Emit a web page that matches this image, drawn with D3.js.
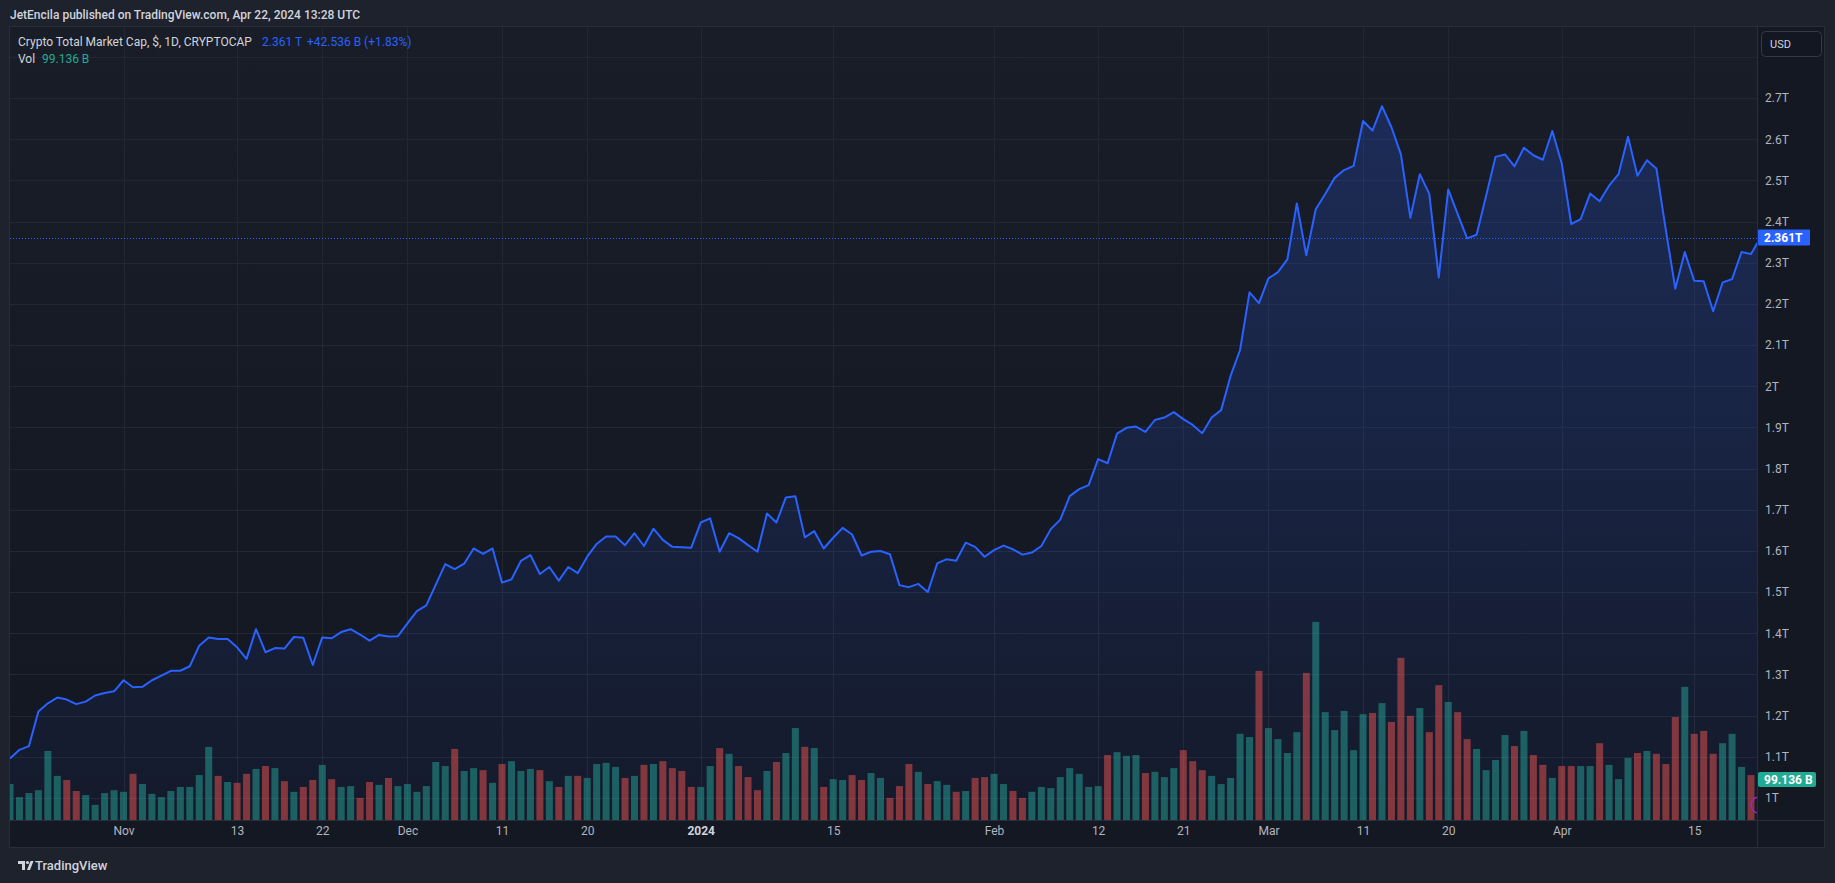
<!DOCTYPE html>
<html>
<head>
<meta charset="utf-8">
<script src="https://cdn.jsdelivr.net/npm/d3@7"></script>
<style>
  body { margin: 0; background: #1e222d; }
  svg { display: block; font-family: Roboto, "Open Sans", sans-serif; }
</style>
</head>
<body>
<div id="chart"></div>
<script>
// Daily closes (trillions USD), Oct 20 2023 -> Apr 22 2024
let startDay = Date.UTC(2023, 9, 20);
let endDay = Date.UTC(2024, 3, 22);

let closes = [
  1.096, 1.117, 1.126, 1.210, 1.230, 1.244, 1.239, 1.228, 1.234, 1.249,
  1.255, 1.259, 1.286, 1.269, 1.270, 1.286, 1.297, 1.309, 1.309, 1.320,
  1.370, 1.390, 1.386, 1.386, 1.366, 1.338, 1.410, 1.354, 1.364, 1.363,
  1.391, 1.389, 1.323, 1.390, 1.388, 1.403, 1.410, 1.397, 1.382, 1.396,
  1.392, 1.393, 1.424, 1.454, 1.468, 1.518, 1.568, 1.556, 1.569, 1.606,
  1.593, 1.606, 1.523, 1.531, 1.576, 1.590, 1.544, 1.561, 1.528, 1.561,
  1.546, 1.586, 1.617, 1.635, 1.635, 1.614, 1.643, 1.612, 1.654, 1.627,
  1.610, 1.609, 1.608, 1.669, 1.679, 1.598, 1.643, 1.631, 1.614, 1.598,
  1.691, 1.669, 1.730, 1.733, 1.633, 1.648, 1.606, 1.632, 1.656, 1.640,
  1.589, 1.598, 1.600, 1.592, 1.517, 1.512, 1.520, 1.500, 1.570, 1.580,
  1.576, 1.620, 1.610, 1.586, 1.602, 1.613, 1.604, 1.591, 1.596, 1.612,
  1.653, 1.676, 1.733, 1.750, 1.760, 1.823, 1.813, 1.885, 1.899, 1.902,
  1.889, 1.918, 1.924, 1.937, 1.920, 1.906, 1.886, 1.924, 1.942, 2.025,
  2.088, 2.228, 2.202, 2.262, 2.277, 2.308, 2.444, 2.318, 2.430, 2.467,
  2.506, 2.525, 2.535, 2.644, 2.621, 2.680, 2.629, 2.563, 2.409, 2.515,
  2.467, 2.264, 2.478, 2.418, 2.359, 2.368, 2.462, 2.557, 2.563, 2.534,
  2.579, 2.561, 2.550, 2.620, 2.541, 2.394, 2.406, 2.468, 2.449, 2.487,
  2.515, 2.606, 2.511, 2.549, 2.529, 2.379, 2.237, 2.326, 2.256, 2.255,
  2.182, 2.252, 2.260, 2.326, 2.321, 2.361
];

// Daily volume (billions USD)
let volumes = [
  88, 56, 66, 73, 169, 108, 98, 71, 61, 37,
  66, 73, 69, 113, 88, 64, 56, 71, 81, 81,
  110, 179, 108, 93, 91, 113, 125, 132, 127, 95,
  69, 81, 98, 135, 100, 81, 83, 54, 93, 86,
  103, 83, 88, 69, 83, 142, 132, 174, 120, 127,
  122, 91, 137, 144, 120, 125, 122, 95, 81, 108,
  108, 103, 137, 140, 130, 103, 108, 135, 137, 144,
  127, 120, 81, 81, 132, 176, 162, 132, 105, 73,
  120, 142, 164, 225, 179, 176, 81, 100, 98, 110,
  98, 115, 103, 54, 83, 137, 118, 88, 95, 86,
  69, 71, 103, 105, 113, 88, 71, 54, 69, 81,
  78, 105, 127, 113, 81, 83, 159, 166, 157, 159,
  115, 118, 105, 127, 171, 144, 122, 108, 88, 103,
  211, 203, 365, 225, 198, 164, 215, 360, 485, 264,
  220, 267, 171, 259, 262, 286, 240, 397, 255, 274,
  215, 330, 289, 264, 198, 174, 122, 147, 208, 181,
  218, 159, 135, 103, 132, 132, 132, 132, 188, 135,
  100, 152, 164, 169, 162, 137, 252, 326, 211, 218,
  162, 188, 211, 130, 110, 99.136
];

let priceTicks = [1.0, 1.1, 1.2, 1.3, 1.4, 1.5, 1.6, 1.7, 1.8, 1.9, 2.0, 2.1, 2.2, 2.3, 2.4, 2.5, 2.6, 2.7];
let gridPrices = [1.0, 1.1, 1.2, 1.3, 1.4, 1.5, 1.6, 1.7, 1.8, 1.9, 2.0, 2.1, 2.2, 2.3, 2.4, 2.5, 2.6, 2.7, 2.8];

let timeTickDates = [
  [2023, 10, 1], [2023, 10, 13], [2023, 10, 22], [2023, 11, 1], [2023, 11, 11], [2023, 11, 20],
  [2024, 0, 1], [2024, 0, 15], [2024, 1, 1], [2024, 1, 12], [2024, 1, 21], [2024, 2, 1],
  [2024, 2, 11], [2024, 2, 20], [2024, 3, 1], [2024, 3, 15]
];
let timeTickLabels = ["Nov", "13", "22", "Dec", "11", "20", "2024", "15", "Feb", "12", "21", "Mar", "11", "20", "Apr", "15"];

let lastPrice = 2.361;
let lastVolume = 99.136;

// layout
let W = 1835, H = 883;
let pane = { left: 10, right: 1757, top: 27, bottom: 820 };
let axisRight = 1824, axisBottom = 847;

let days = d3.utcDay.range(new Date(startDay), new Date(endDay + 1));
let series = days.map((d, i) => ({ date: d, close: closes[i], vol: volumes[i], up: i === 0 || closes[i] >= closes[i - 1] }));

let x = d3.scaleUtc()
  .domain([new Date(startDay), new Date(endDay)])
  .range([10, 10 + 185 * 9.462]);

let y = d3.scaleLinear().domain([1, 2.7]).range([798, 98]);
let yVol = d3.scaleLinear().domain([0, lastVolume]).range([pane.bottom, 779.5]);

let svg = d3.select("#chart").append("svg")
  .attr("width", W)
  .attr("height", H);

let defs = svg.append("defs");
let bgGrad = defs.append("linearGradient").attr("id", "bgGrad")
  .attr("x1", 0).attr("y1", 0).attr("x2", 0).attr("y2", 1);
bgGrad.append("stop").attr("offset", "0%").attr("stop-color", "#191d28");
bgGrad.append("stop").attr("offset", "100%").attr("stop-color", "#131722");

let areaGrad = defs.append("linearGradient").attr("id", "areaGrad")
  .attr("gradientUnits", "userSpaceOnUse")
  .attr("x1", 0).attr("y1", y(d3.max(closes))).attr("x2", 0).attr("y2", pane.bottom);
areaGrad.append("stop").attr("offset", "0%").attr("stop-color", "rgba(41,98,255,0.22)");
areaGrad.append("stop").attr("offset", "100%").attr("stop-color", "rgba(41,98,255,0.04)");

defs.append("clipPath").attr("id", "paneClip")
  .append("rect")
  .attr("x", pane.left).attr("y", pane.top)
  .attr("width", pane.right - pane.left).attr("height", pane.bottom - pane.top);

// backgrounds
svg.append("rect").attr("width", W).attr("height", H).attr("fill", "#1e222d");
svg.append("rect")
  .attr("x", pane.left).attr("y", pane.top)
  .attr("width", axisRight - pane.left).attr("height", axisBottom - pane.top)
  .attr("fill", "#141823");
svg.append("rect")
  .attr("x", pane.left).attr("y", pane.top)
  .attr("width", pane.right - pane.left).attr("height", pane.bottom - pane.top)
  .attr("fill", "url(#bgGrad)");

// grid
let grid = svg.append("g").attr("clip-path", "url(#paneClip)");
grid.selectAll(".hgrid")
  .data(gridPrices)
  .enter()
  .append("line")
  .attr("x1", pane.left).attr("x2", pane.right)
  .attr("y1", d => Math.round(y(d)) + 0.5).attr("y2", d => Math.round(y(d)) + 0.5)
  .attr("stroke", "#232733");
grid.selectAll(".vgrid")
  .data(timeTickDates)
  .enter()
  .append("line")
  .attr("x1", d => Math.round(x(Date.UTC(d[0], d[1], d[2]))) + 0.5)
  .attr("x2", d => Math.round(x(Date.UTC(d[0], d[1], d[2]))) + 0.5)
  .attr("y1", pane.top).attr("y2", pane.bottom)
  .attr("stroke", "#232733");

let plot = svg.append("g").attr("clip-path", "url(#paneClip)");

// area under line
let area = d3.area()
  .x(d => x(d.date))
  .y0(pane.bottom)
  .y1(d => y(d.close));
plot.append("path")
  .datum(series)
  .attr("d", area)
  .attr("fill", "url(#areaGrad)");

// volume bars
let barW = 7;
plot.selectAll(".vol")
  .data(series)
  .enter()
  .append("rect")
  .attr("x", d => x(d.date) - barW / 2)
  .attr("y", d => yVol(d.vol))
  .attr("width", barW)
  .attr("height", d => pane.bottom - yVol(d.vol))
  .attr("fill", d => d.up ? "rgba(38,166,154,0.5)" : "rgba(239,83,80,0.5)");

// price line
let line = d3.line()
  .x(d => x(d.date))
  .y(d => y(d.close));
plot.append("path")
  .datum(series)
  .attr("d", line)
  .attr("fill", "none")
  .attr("stroke", "#2962ff")
  .attr("stroke-width", 2)
  .attr("stroke-linejoin", "round");

// last price dotted line
plot.append("line")
  .attr("x1", pane.left).attr("x2", pane.right)
  .attr("y1", Math.round(y(lastPrice)) + 0.5).attr("y2", Math.round(y(lastPrice)) + 0.5)
  .attr("stroke", "#2962ff")
  .attr("stroke-dasharray", "1,2");

// small purple marker at the edge
plot.append("circle")
  .attr("cx", 1759).attr("cy", 805).attr("r", 8)
  .attr("fill", "none").attr("stroke", "#9c27b0").attr("stroke-width", 1.5);

// borders
svg.append("line")
  .attr("x1", pane.right + 0.5).attr("x2", pane.right + 0.5)
  .attr("y1", pane.top).attr("y2", axisBottom)
  .attr("stroke", "#2a2e39");
svg.append("line")
  .attr("x1", pane.left).attr("x2", axisRight)
  .attr("y1", pane.bottom + 0.5).attr("y2", pane.bottom + 0.5)
  .attr("stroke", "#2a2e39");
svg.append("rect")
  .attr("x", pane.left - 0.5).attr("y", pane.top - 0.5)
  .attr("width", axisRight - pane.left + 1).attr("height", axisBottom - pane.top + 1)
  .attr("fill", "none").attr("stroke", "#2a2e39");

// price axis
let priceAxis = d3.axisRight(y)
  .tickValues(priceTicks)
  .tickSize(0)
  .tickPadding(8)
  .tickFormat(d => (+d.toFixed(1)) + "T");
let pAxis = svg.append("g")
  .attr("transform", `translate(${pane.right}, 0)`)
  .call(priceAxis);
pAxis.select(".domain").remove();
pAxis.selectAll("text")
  .attr("fill", "#b2b5be")
  .style("font-size", "12px")
  .style("font-family", "Roboto, sans-serif");

// time axis
let tickDates = timeTickDates.map(d => new Date(Date.UTC(d[0], d[1], d[2])));
let timeAxis = d3.axisBottom(x)
  .tickValues(tickDates)
  .tickSize(0)
  .tickPadding(6)
  .tickFormat((d, i) => timeTickLabels[i]);
let tAxis = svg.append("g")
  .attr("transform", `translate(0, ${pane.bottom})`)
  .call(timeAxis);
tAxis.select(".domain").remove();
tAxis.selectAll("text")
  .attr("fill", (d, i) => timeTickLabels[i] === "2024" ? "#d1d4dc" : "#b2b5be")
  .style("font-weight", (d, i) => timeTickLabels[i] === "2024" ? "bold" : "normal")
  .style("font-size", "12px")
  .style("font-family", "Roboto, sans-serif");

// USD button
svg.append("rect")
  .attr("x", 1761.5).attr("y", 31.5).attr("width", 60).attr("height", 25).attr("rx", 4)
  .attr("fill", "#131722").attr("stroke", "#363a45");
svg.append("text")
  .attr("x", 1770).attr("y", 48)
  .attr("fill", "#d1d4dc").style("font-size", "11px")
  .text("USD");

// last price label
let lpY = y(lastPrice);
svg.append("rect")
  .attr("x", pane.right + 1).attr("y", lpY - 8).attr("width", 52).attr("height", 16).attr("rx", 1)
  .attr("fill", "#2962ff");
svg.append("text")
  .attr("x", 1764).attr("y", lpY + 4.5)
  .attr("fill", "#ffffff").style("font-size", "12px").style("font-weight", "bold")
  .text("2.361T");

// last volume label
let lvY = yVol(lastVolume);
svg.append("rect")
  .attr("x", pane.right + 1).attr("y", lvY - 7.5).attr("width", 58).attr("height", 15).attr("rx", 2)
  .attr("fill", "#22ab94");
svg.append("text")
  .attr("x", 1764).attr("y", lvY + 4.5)
  .attr("fill", "#ffffff").style("font-size", "12px").style("font-weight", "bold")
  .text("99.136 B");

// header
svg.append("text")
  .attr("x", 10).attr("y", 19)
  .attr("fill", "#d1d4dc").style("font-size", "12px").style("font-weight", "500")
  .text("JetEncila published on TradingView.com, Apr 22, 2024 13:28 UTC");

// legend
svg.append("text")
  .attr("x", 18).attr("y", 46)
  .attr("fill", "#d1d4dc").style("font-size", "12px")
  .text("Crypto Total Market Cap, $, 1D, CRYPTOCAP");
svg.append("text")
  .attr("x", 262).attr("y", 46)
  .attr("fill", "#2962ff").style("font-size", "12px")
  .text("2.361 T");
svg.append("text")
  .attr("x", 307).attr("y", 46)
  .attr("fill", "#2962ff").style("font-size", "12px")
  .text("+42.536 B (+1.83%)");
svg.append("text")
  .attr("x", 18).attr("y", 63)
  .attr("fill", "#d1d4dc").style("font-size", "12px")
  .text("Vol");
svg.append("text")
  .attr("x", 42).attr("y", 63)
  .attr("fill", "#22ab94").style("font-size", "12px")
  .text("99.136 B");

// TradingView logo
let logo = svg.append("g").attr("fill", "#d1d4dc");
logo.append("path").attr("d", "M18 861 h7 v9 h-3 v-6 h-4 z");
logo.append("circle").attr("cx", 27.5).attr("cy", 862.5).attr("r", 1.6);
logo.append("path").attr("d", "M27 870 l3.5 -9 h3 l-3.5 9 z");
svg.append("text")
  .attr("x", 35).attr("y", 870)
  .attr("fill", "#d1d4dc").style("font-size", "13px").style("font-weight", "500")
  .text("TradingView");
</script>
</body>
</html>
